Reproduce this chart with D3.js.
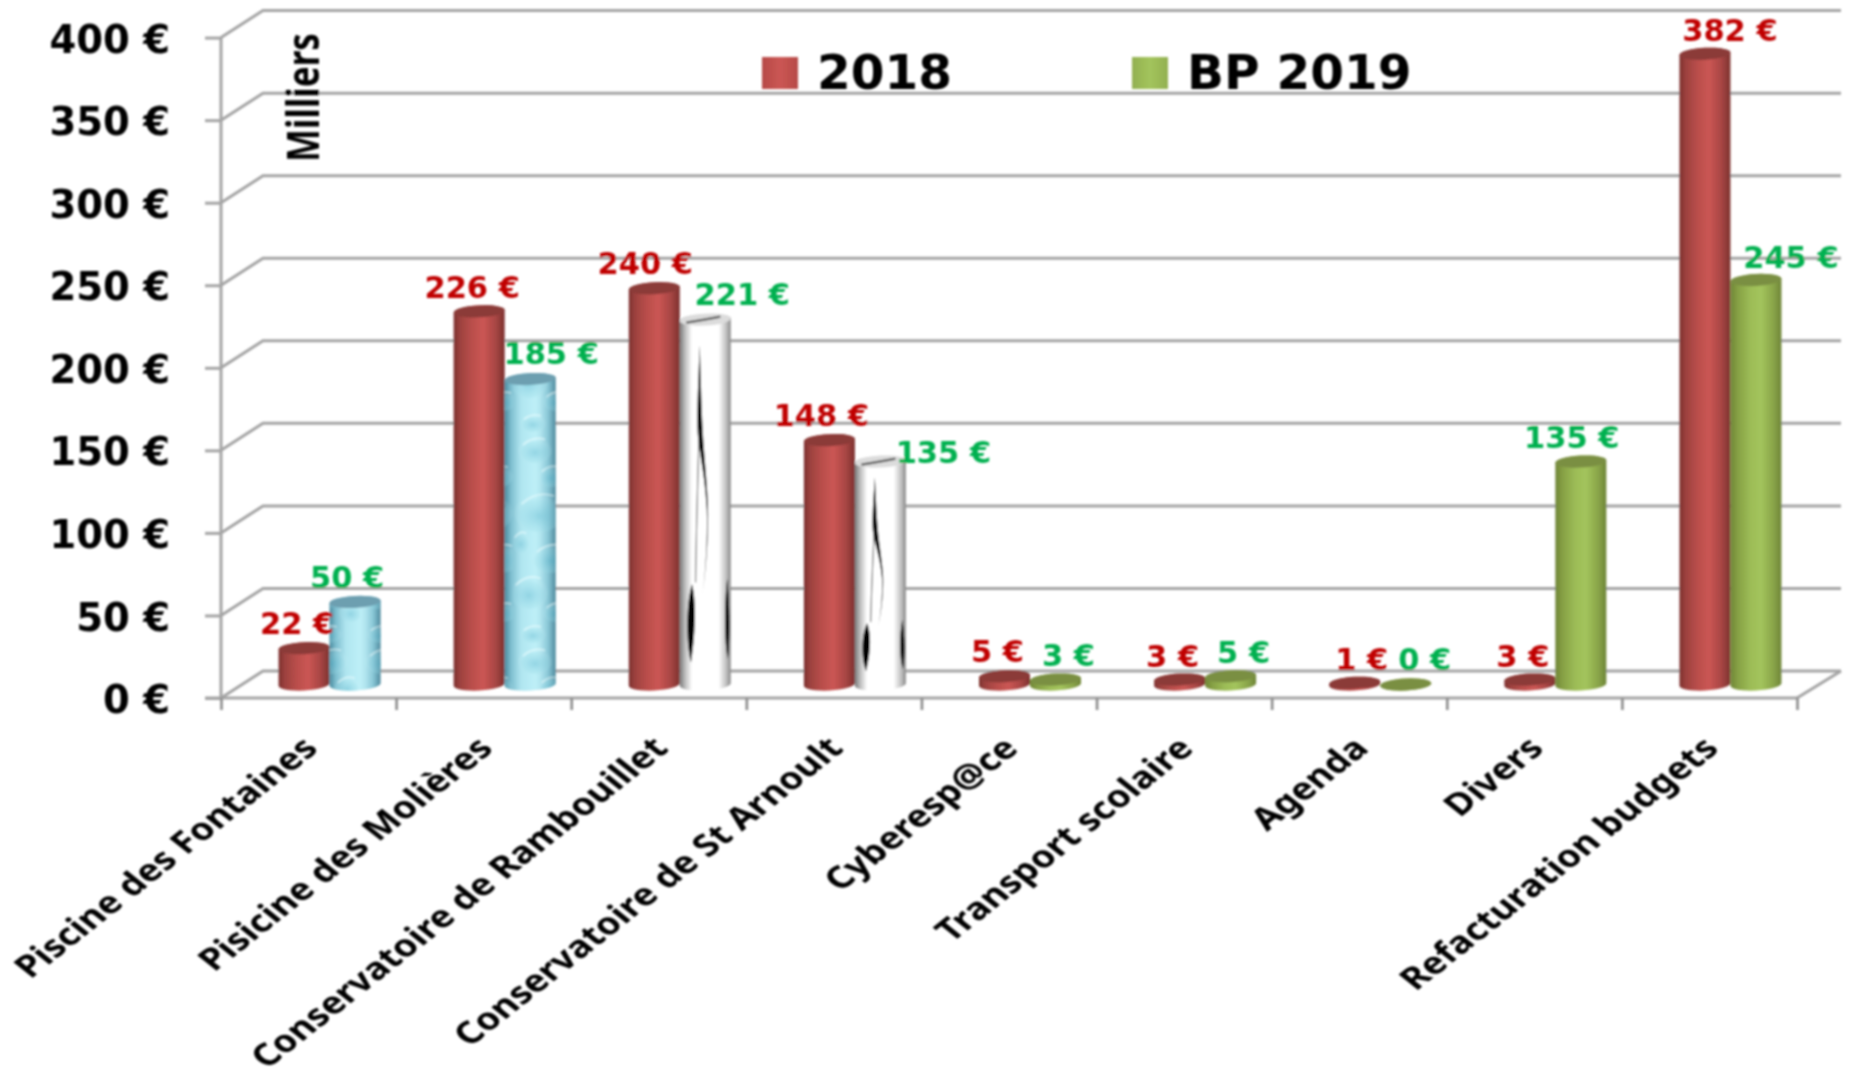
<!DOCTYPE html>
<html>
<head>
<meta charset="utf-8">
<script src="https://cdn.jsdelivr.net/npm/d3@7"></script>
<style>
html, body { margin: 0; padding: 0; background: #fff; }
svg { display: block; }
</style>
</head>
<body>
<div id="chart"></div>
<script>
// values in thousands of euros
var categories = ["Piscine des Fontaines", "Pisicine des Molières", "Conservatoire de Rambouillet", "Conservatoire de St Arnoult", "Cyberesp@ce", "Transport scolaire", "Agenda", "Divers", "Refacturation budgets"];
var values2018 = [22, 226, 240, 148, 5, 3, 1, 3, 382];
var valuesBP2019 = [50, 185, 221, 135, 3, 5, 0, 135, 245];
var skinsBP2019 = ["eau", "eau", "bouleau", "bouleau", "vert", "vert", "vert", "vert", "vert"];
var yTicks = [0, 50, 100, 150, 200, 250, 300, 350, 400];
var seriesNames = ["2018", "BP 2019"];

var width = 1856, height = 1075;
var left = 221, right = 1797, floorY = 698, topY = 37.6;
var depthX = 42, depthY = 27;          // 3D wall offset
var barW = 51, rx = 25.5, ry = 6, tilt = 1.3;

// label shifts from the top middle of the bar [dx, dy]
var shift2018 = [[-7, -14], [-7, -13], [-9, -14], [-8, -14], [-7, -14], [-7, -13], [7, -13], [-7, -13], [25, -13]];
var shiftBP2019 = [[-8, -14], [21, -15], [37, -15], [63, 1], [13, -14], [13, -13], [19, -15], [-9, -14], [35, -12]];

var x = d3.scaleBand().domain(categories).range([left, right]);
var xTick = d3.scaleLinear().domain([0, categories.length]).range([left, right]);
var y = d3.scaleLinear().domain([0, 400]).range([floorY, topY]);

var svg = d3.select("#chart").append("svg").attr("width", width).attr("height", height);
var defs = svg.append("defs");

// the reference is a soft, upscaled picture
defs.append("filter").attr("id", "soft")
  .attr("filterUnits", "userSpaceOnUse")
  .attr("x", 0).attr("y", 0).attr("width", width).attr("height", height)
  .append("feGaussianBlur").attr("stdDeviation", 0.9);

function cylinder(id, stops) {
  var g = defs.append("linearGradient").attr("id", id);
  stops.forEach(function(s) {
    g.append("stop").attr("offset", s[0]).attr("stop-color", s[1]);
  });
}
cylinder("gradRed", [[0, "#7b302e"], [0.12, "#9c413e"], [0.35, "#b94e4b"], [0.58, "#cb5654"], [0.82, "#a84644"], [1, "#7c312f"]]);
cylinder("gradGreen", [[0, "#6f8537"], [0.14, "#86a044"], [0.4, "#9dbd57"], [0.6, "#a3c45c"], [0.85, "#88a348"], [1, "#6e8438"]]);
cylinder("gradWater", [[0, "#4f8fa3"], [0.12, "#7fbfd0"], [0.35, "#a8e2ee"], [0.6, "#b9eef7"], [0.85, "#8cc9d8"], [1, "#558fa2"]]);
cylinder("gradWaterEdge", [[0, "#3f7f93"], [0.14, "#7fbfd0"], [0.3, "#c8f2f8"], [0.7, "#c8f2f8"], [0.86, "#7fbfd0"], [1, "#3f7f93"]]);
cylinder("gradBirch", [[0, "#777"], [0.1, "#bbb"], [0.24, "#fff"], [0.76, "#fff"], [0.9, "#c4c4c4"], [1, "#8a8a8a"]]);
cylinder("gradLegendRed", [[0, "#b64a47"], [0.5, "#cb5654"], [1, "#b64a47"]]);
cylinder("gradLegendGreen", [[0, "#92b050"], [0.5, "#a3c45c"], [1, "#92b050"]]);

var bubble = defs.append("radialGradient").attr("id", "bubble").attr("cx", 0.5).attr("cy", 0.6).attr("r", 0.55);
bubble.append("stop").attr("offset", 0).attr("stop-color", "#62b9cf").attr("stop-opacity", 0.7);
bubble.append("stop").attr("offset", 0.7).attr("stop-color", "#9adbe8").attr("stop-opacity", 0.4);
bubble.append("stop").attr("offset", 1).attr("stop-color", "#e6fbff").attr("stop-opacity", 0);

// water drops over the light blue bars
var water = defs.append("pattern").attr("id", "waterDrops")
  .attr("patternUnits", "userSpaceOnUse").attr("width", 51).attr("height", 211)
  .attr("patternTransform", "translate(3,12)");
[[22, 16, 17, 13], [38, 42, 13, 11], [26, 78, 25, 20], [8, 108, 9, 11], [38, 124, 20, 15], [16, 158, 19, 17], [42, 178, 12, 10], [20, 200, 13, 9]].forEach(function(b) {
  water.append("ellipse").attr("cx", b[0]).attr("cy", b[1]).attr("rx", b[2]).attr("ry", b[3]).attr("fill", "url(#bubble)");
  water.append("path")
    .attr("d", "M" + (b[0] - b[2] * 0.7) + "," + (b[1] - b[3] * 0.4) + "Q" + (b[0] - b[2] * 0.1) + "," + (b[1] - b[3] * 1.1) + " " + (b[0] + b[2] * 0.6) + "," + (b[1] - b[3] * 0.8))
    .attr("fill", "none").attr("stroke", "#f2ffff").attr("stroke-width", 1.6).attr("opacity", 0.75);
});

// black birch marks, in unit coordinates of the bar
var birch = defs.append("g").attr("id", "birchMarks");
birch.append("path").attr("fill", "#000")
  .attr("d", "M0.39,0.07 C0.36,0.18 0.33,0.26 0.35,0.31 C0.38,0.37 0.49,0.42 0.53,0.52 C0.55,0.60 0.50,0.70 0.44,0.76 C0.52,0.68 0.57,0.58 0.55,0.50 C0.52,0.42 0.47,0.36 0.45,0.30 C0.42,0.22 0.41,0.14 0.39,0.07 Z");
birch.append("path").attr("fill", "none").attr("stroke", "#555").attr("stroke-width", 0.02)
  .attr("d", "M0.38,0.30 C0.35,0.45 0.32,0.60 0.31,0.72");
birch.append("path").attr("fill", "#000")
  .attr("d", "M0.24,0.725 C0.31,0.76 0.33,0.84 0.22,0.94 C0.11,0.88 0.13,0.77 0.24,0.725 Z");
birch.append("path").attr("fill", "#000")
  .attr("d", "M0.93,0.71 C0.98,0.78 0.99,0.88 0.94,0.93 C0.87,0.88 0.87,0.78 0.93,0.71 Z");

var root = svg.append("g").attr("filter", "url(#soft)");

// back wall and floor
var gridColor = "#a4a4a4";
var walls = root.append("g").attr("fill", "none").attr("stroke", gridColor).attr("stroke-width", 3);
walls.selectAll(".grid").data(yTicks).enter().append("path")
  .attr("class", "grid")
  .attr("d", function(d) {
    return "M" + left + "," + y(d) + "L" + (left + depthX) + "," + (y(d) - depthY) + "H" + (right + depthX + 2);
  });
walls.append("path")
  .attr("d", "M" + right + "," + floorY + "L" + (right + depthX + 2) + "," + (floorY - depthY));

// axes
var yAxis = root.append("g").attr("transform", "translate(" + left + ",0)")
  .call(d3.axisLeft(y).tickValues(yTicks).tickSize(16).tickPadding(35).tickFormat(function(d) { return d + " €"; }));
yAxis.selectAll("line, path").attr("stroke", gridColor).attr("stroke-width", 3);
yAxis.select(".domain").attr("d", "M0," + topY + "V" + floorY);
yAxis.selectAll("text")
  .attr("fill", "#000")
  .attr("dy", "0.38em")
  .style("font", "bold 38.5px 'DejaVu Sans'");

var xTicks = root.append("g").attr("transform", "translate(0," + floorY + ")")
  .call(d3.axisBottom(xTick).ticks(categories.length).tickSize(12).tickFormat(""));
xTicks.selectAll("line").attr("stroke", "#8c8c8c").attr("stroke-width", 2.6);
xTicks.select(".domain").attr("stroke", gridColor).attr("stroke-width", 3)
  .attr("d", "M" + (left - 16) + ",0H" + right);

var xLabels = root.append("g").attr("transform", "translate(0," + floorY + ")")
  .call(d3.axisBottom(x).tickSize(0));
xLabels.select(".domain").remove();
xLabels.selectAll("text")
  .attr("x", 0).attr("y", 0).attr("dy", 0)
  .attr("text-anchor", "end")
  .attr("fill", "#000")
  .attr("transform", "translate(11,52) scale(1.26,1) rotate(-45)")
  .style("font", "bold 30.5px 'Noto Sans'");

// bars
function barPath(d) {
  var x0 = d.cx - rx, x1 = d.cx + rx, t = y(d.value) - depthY / 2, b = floorY - depthY / 2;
  return "M" + x0 + "," + (t + tilt) +
    "A" + rx + "," + ry + " -3 0 1 " + x1 + "," + (t - tilt) +
    "V" + (b - tilt) +
    "A" + rx + "," + ry + " -3 0 1 " + x0 + "," + (b + tilt) + "Z";
}
function barRows(values, offset, skins) {
  return values.map(function(v, i) {
    return {
      value: v,
      cx: x(categories[i]) + x.bandwidth() / 2 + depthX / 2 + offset,
      skin: skins ? skins[i] : "rouge"
    };
  });
}
var skinFill = { rouge: "url(#gradRed)", vert: "url(#gradGreen)", eau: "url(#gradWater)", bouleau: "url(#gradBirch)" };
var skinTop = { rouge: "#8b3a38", vert: "#7a8f43", eau: "#6d9fb0", bouleau: "#dcdcdc" };

function drawBars(rows, cls) {
  var g = root.selectAll("." + cls).data(rows).enter().append("g").attr("class", cls);
  g.append("path").attr("d", barPath).attr("fill", function(d) { return skinFill[d.skin]; });
  g.filter(function(d) { return d.skin == "eau"; }).append("path")
    .attr("d", barPath).attr("fill", "url(#waterDrops)");
  g.filter(function(d) { return d.skin == "eau"; }).append("path")
    .attr("d", barPath).attr("fill", "url(#gradWaterEdge)").attr("opacity", 0.3);
  g.filter(function(d) { return d.skin == "bouleau"; }).append("use")
    .attr("href", "#birchMarks")
    .attr("transform", function(d) {
      var t = y(d.value) - depthY / 2;
      return "translate(" + (d.cx - rx) + "," + t + ") scale(" + barW + "," + (floorY - depthY / 2 - t) + ")";
    });
  g.append("ellipse")
    .attr("cx", function(d) { return d.cx; })
    .attr("cy", function(d) { return y(d.value) - depthY / 2; })
    .attr("rx", rx).attr("ry", ry)
    .attr("transform", function(d) { return "rotate(-3," + d.cx + "," + (y(d.value) - depthY / 2) + ")"; })
    .attr("fill", function(d) { return skinTop[d.skin]; });
  g.filter(function(d) { return d.skin == "bouleau"; }).append("path")
    .attr("fill", "none").attr("stroke", "#555").attr("stroke-width", 2.4)
    .attr("d", function(d) {
      var t = y(d.value) - depthY / 2;
      return "M" + (d.cx - 19) + "," + (t + 3) + "Q" + d.cx + "," + t + " " + (d.cx + 15) + "," + (t - 3);
    });
}
var rows2018 = barRows(values2018, -barW / 2);
var rowsBP2019 = barRows(valuesBP2019, barW / 2, skinsBP2019);
drawBars(rows2018, "bar2018");
drawBars(rowsBP2019, "barBP2019");

// value labels
function drawValues(rows, shifts, color) {
  root.append("g").selectAll("text").data(rows).enter().append("text")
    .attr("x", function(d, i) { return d.cx + shifts[i][0]; })
    .attr("y", function(d, i) { return y(d.value) - depthY / 2 + shifts[i][1]; })
    .attr("text-anchor", "middle")
    .attr("fill", color)
    .style("font", "bold 30.5px 'DejaVu Sans'")
    .text(function(d) { return d.value + " €"; });
}
drawValues(rows2018, shift2018, "#c00000");
drawValues(rowsBP2019, shiftBP2019, "#00b050");

// legend
var legendX = [762, 1132], legendText = [817, 1187], legendFill = ["url(#gradLegendRed)", "url(#gradLegendGreen)"];
var legend = root.selectAll(".legend").data(seriesNames).enter().append("g").attr("class", "legend");
legend.append("rect")
  .attr("x", function(d, i) { return legendX[i]; })
  .attr("y", 57).attr("width", 36).attr("height", 32)
  .attr("fill", function(d, i) { return legendFill[i]; });
legend.append("text")
  .attr("x", function(d, i) { return legendText[i]; })
  .attr("y", 89)
  .attr("fill", "#000")
  .style("font", "bold 48.5px 'DejaVu Sans'")
  .text(function(d) { return d; });

// unit
root.append("text")
  .attr("transform", "translate(319,162) scale(1.26,1) rotate(-90)")
  .attr("fill", "#000")
  .style("font", "bold 35px 'Noto Sans'")
  .text("Milliers");
</script>
</body>
</html>
